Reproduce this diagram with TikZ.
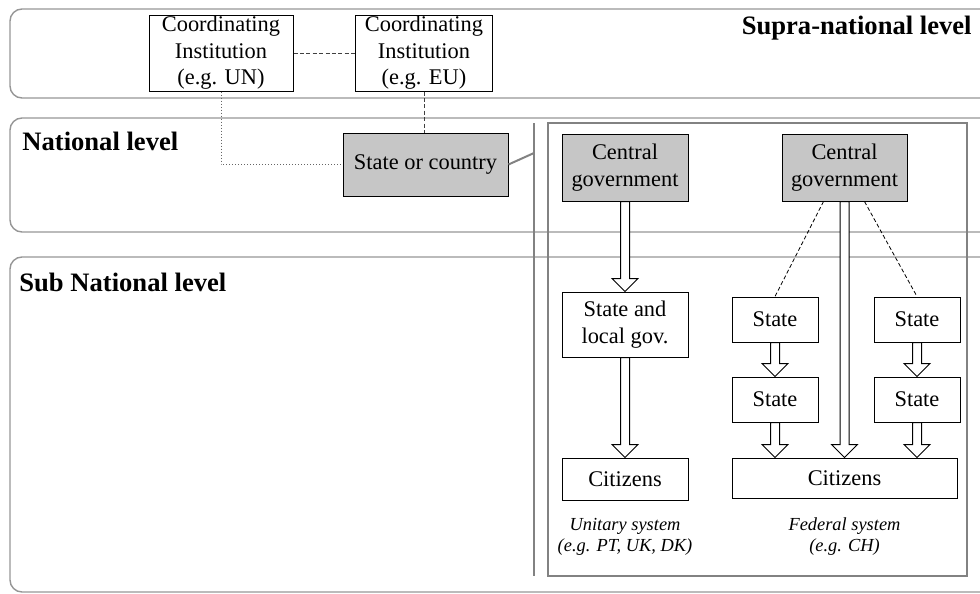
\documentclass[tikz,border=0pt]{standalone}
\usepackage{fontspec}
\setmainfont{Liberation Serif}
\usepackage{xcolor}
\usepackage{tikz}
\usetikzlibrary{calc}
\definecolor{boxgray}{RGB}{198,198,198}
\definecolor{bandgray}{RGB}{150,150,150}
\definecolor{framegray}{RGB}{130,130,130}
\newcommand{\boxfont}{\fontsize{11.2}{13.3}\selectfont}
\newcommand{\fatarrow}[2]{%
  \draw[fill=white,line width=0.5pt] let \p1=(#1), \p2=(#2) in
    (\x1-2.25pt,\y1) -- (\x1-2.25pt,\y2+6.5pt) -- (\x1-6.5pt,\y2+6.5pt) -- (\x1,\y2)
    -- (\x1+6.5pt,\y2+6.5pt) -- (\x1+2.25pt,\y2+6.5pt) -- (\x1+2.25pt,\y1) -- cycle;}

\begin{document}
\begin{tikzpicture}[x=0.5pt,y=-0.5pt,
  box/.style={draw,line width=0.5pt,align=center,inner sep=0pt,font=\boxfont},
  govbox/.style={box,fill=boxgray},
  band/.style={draw=bandgray,line width=0.7pt,rounded corners=6pt},
  frame/.style={draw=framegray,line width=1pt},
  levellabel/.style={font=\bfseries\fontsize{13.3}{15}\selectfont,inner sep=0pt},
  caption/.style={align=center,inner sep=0pt,font=\itshape\fontsize{9.2}{10.5}\selectfont},
  linkdash/.style={draw=black!75,line width=0.5pt,dash pattern=on 2pt off 1.2pt},
  linkdot/.style={draw=black!60,line width=0.5pt,densely dotted},
  fedlink/.style={draw=black,line width=0.4pt,dash pattern=on 2pt off 1.2pt}]
\useasboundingbox (0,0) rectangle (980,594);
%%%%% Levels %%%%%
\draw[band] (10,9) rectangle (995,98);
\draw[band] (10,118) rectangle (995,232);
\draw[band] (10,257) rectangle (995,592);
\node[levellabel,anchor=east] (supra) at (972,28) {Supra-national level};
\node[levellabel,anchor=west] (natl) at (22,141) {National level};
\node[levellabel,anchor=west] (subnatl) at (19,282) {Sub National level};
%%%%% Institutions and state %%%%%
\node[box,minimum width=72pt,minimum height=38pt] (un) at (221,53) {Coordinating\\Institution\\(e.g. UN)};
\node[box,minimum width=68.5pt,minimum height=38pt] (eu) at (424,53) {Coordinating\\Institution\\(e.g. EU)};
\node[govbox,minimum width=82.5pt,minimum height=31.5pt] (state) at (425.5,164.5) {State or country};
\draw[linkdash] (un.east) -- (eu.west);
\draw[linkdot] (un.south) |- (state.west);
\draw[linkdash] (eu.south) -- (eu.south |- state.north);
%%%%% Systems frame %%%%%
\draw[frame] (534,123) -- (534,576);
\draw[frame] (548,123) rectangle (967,576);
\coordinate (hook) at (534,153);
\draw[frame] (state.east) -- (hook);
%%%%% Unitary system %%%%%
\node[govbox,minimum width=63pt,minimum height=33.5pt] (cg1) at (625,167.5) {Central\\government};
\node[box,minimum width=63pt,minimum height=32.5pt] (slg) at (625,324.5) {State and\\local gov.};
\node[box,minimum width=63pt,minimum height=21pt] (cit1) at (625,479) {Citizens};
\node[caption] (unitary) at (625,537) {Unitary system\\(e.g. PT, UK, DK)};
%%%%% Federal system %%%%%
\node[govbox,minimum width=62.5pt,minimum height=33.5pt] (cg2) at (844.5,167.5) {Central\\government};
\foreach \n/\x/\y in {s1/775/319.5,s2/775/399.5,s3/917/319.5,s4/917/399.5}{
\node[box,minimum width=43pt,minimum height=22.5pt] (\n) at (\x,\y) {State};
}
\node[box,minimum width=112.5pt,minimum height=20pt] (cit2) at (844.5,478) {Citizens};
\node[caption] (federal) at (844.5,537) {Federal system\\(e.g. CH)};
\draw[fedlink] ($(cg2.south)+(-21,0)$) -- (s1.north);
\draw[fedlink] ($(cg2.south)+(20,0)$) -- (s3.north);
%%%%% Arrows %%%%%
\foreach \a/\b in {cg1.south/slg.north, slg.south/cit1.north, s1.south/s2.north, s3.south/s4.north,
  s2.south/s2.south |- cit2.north, s4.south/s4.south |- cit2.north, cg2.south/cit2.north}{
\fatarrow{\a}{\b}
}
\end{tikzpicture}
\end{document}
